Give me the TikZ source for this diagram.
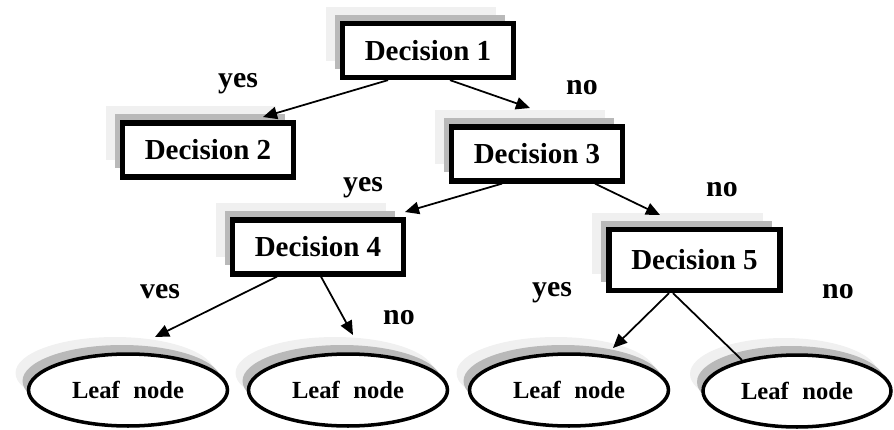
\documentclass[tikz,border=0pt]{standalone}
\usepackage{fontspec}
\setmainfont{Liberation Serif}
\usepackage{tikz}
\usetikzlibrary{shapes.geometric,shadows,arrows.meta}

\begin{document}
\begin{tikzpicture}[x=0.02cm,y=-0.02cm,
		dec/.style={draw,line width=3pt,fill=white,inner sep=0pt,minimum width=3.42cm,minimum height=1.08cm,
			font=\fontsize{16.5}{18}\selectfont\bfseries,
			copy shadow={shadow xshift=-0.34cm,shadow yshift=0.34cm,fill=gray!12,draw=none},
			copy shadow={shadow xshift=-0.16cm,shadow yshift=0.18cm,fill=gray!55,draw=none}},
		leaf/.style={draw,ellipse,line width=2pt,fill=white,inner sep=0pt,minimum width=3.98cm,minimum height=1.44cm,
			font=\fontsize{14}{16}\selectfont\bfseries,
			execute at begin node={\spaceskip=0.55em\relax},
			copy shadow={shadow xshift=-0.26cm,shadow yshift=0.34cm,fill=gray!12,draw=none},
			copy shadow={shadow xshift=-0.12cm,shadow yshift=0.18cm,fill=gray!55,draw=none}},
		lab/.style={font=\fontsize{17}{19}\selectfont\bfseries},
		arr/.style={line width=1pt,-{Triangle[length=8pt,width=7pt]}}]
	\useasboundingbox (0,0) rectangle (894,430);
				\node[dec] (d1) at (428,50.5) {Decision 1};
				\node[dec] (d2) at (208,150) {Decision 2};
				\node[dec] (d3) at (537,154) {Decision 3};
				\node[dec] (d4) at (318,247) {Decision 4};
				\node[dec,minimum height=1.22cm] (d5) at (694.5,260) {Decision 5};
				\node[leaf] (l1) at (128,390) {Leaf node};
				\node[leaf] (l2) at (348,390) {Leaf node};
				\node[leaf] (l3) at (569,390) {Leaf node};
				\node[leaf,minimum width=3.76cm] (l4) at (797,391) {Leaf node};
				\node[lab] (y1) at (238,84) {yes};
				\node[lab] (n1) at (582,88) {no};
				\node[lab] (y2) at (363,188) {yes};
				\node[lab] (n2) at (722,190) {no};
				\node[lab] (y3) at (160,292) {ves};
				\node[lab] (n3) at (399,318) {no};
				\node[lab] (y4) at (552,293) {yes};
				\node[lab] (n4) at (838,292) {no};
				\coordinate (t1) at (263,117);
				\coordinate (t2) at (530,108);
				\coordinate (t3) at (405,212);
				\coordinate (t4) at (660,215);
				\coordinate (t5) at (155,337);
				\coordinate (t6) at (353,335);
				\coordinate (t7) at (613,348);
				\coordinate (t8) at (742,360);
				\draw[arr] ([xshift=-0.8cm]d1.south) to (t1);
				\draw[arr] ([xshift=0.44cm]d1.south) to (t2);
				\draw[arr] ([xshift=-0.7cm]d3.south) to (t3);
				\draw[arr] ([xshift=1.16cm]d3.south) to (t4);
				\draw[arr] ([xshift=-0.82cm]d4.south) to (t5);
				\draw[arr] ([xshift=0.06cm]d4.south) to (t6);
				\draw[arr] ([xshift=-0.51cm]d5.south) to (t7);
				\draw[line width=1pt] ([xshift=-0.43cm]d5.south) to (t8);
		\end{tikzpicture}
\end{document}
